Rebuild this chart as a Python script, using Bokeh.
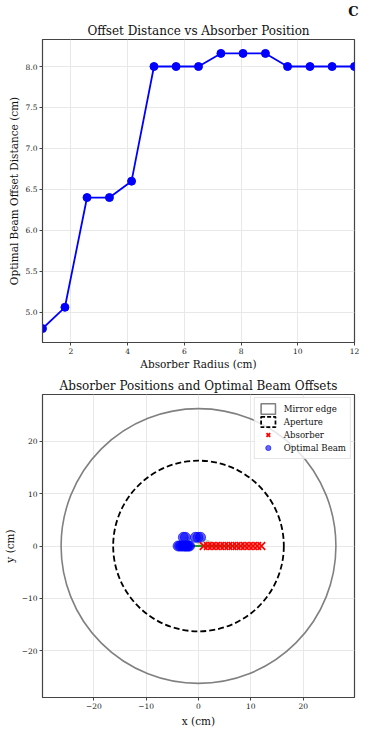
from bokeh.plotting import figure
from bokeh.layouts import column
from bokeh.models import Range1d, FixedTicker, Legend, LegendItem, Title
from bokeh.embed import file_html
from bokeh.resources import INLINE

# ---- data: top panel ----
absorber_radius = [1.0, 1.79, 2.57, 3.36, 4.14, 4.93, 5.71, 6.5, 7.29, 8.07, 8.86, 9.64, 10.43, 11.21, 12.0]
offset_distance = [4.80, 5.06, 6.40, 6.40, 6.60, 8.00, 8.00, 8.00, 8.16, 8.16, 8.16, 8.00, 8.00, 8.00, 8.00]
top_x_ticks = [2, 4, 6, 8, 10, 12]
top_x_labels = ["2", "4", "6", "8", "10", "12"]
top_y_ticks = [5.0, 5.5, 6.0, 6.5, 7.0, 7.5, 8.0]
top_y_labels = ["5.0", "5.5", "6.0", "6.5", "7.0", "7.5", "8.0"]

# ---- data: bottom panel ----
mirror_radius = 26.25
aperture_radius = 16.3
absorber_x = [1.0, 1.79, 2.57, 3.36, 4.14, 4.93, 5.71, 6.5, 7.29, 8.07, 8.86, 9.64, 10.43, 11.21, 12.0]
absorber_y = [0, 0, 0, 0, 0, 0, 0, 0, 0, 0, 0, 0, 0, 0, 0]
beam_x = [-2.9, -2.5, -0.6, -0.1, 0.4, -3.9, -3.6, -3.3, -3.0, -2.7, -2.5, -2.3, -2.1, -1.9, -1.7]
beam_y = [1.66, 1.66, 1.66, 1.66, 1.66, 0, 0, 0, 0, 0, 0, 0, 0, 0, 0]
bottom_ticks = [-20, -10, 0, 10, 20]
bottom_tick_labels = ["\u221220", "\u221210", "0", "10", "20"]

FONT = "DejaVu Serif"
EDGE = "#444444"


def style(p):
    p.outline_line_color = EDGE
    p.outline_line_width = 1.2
    for ax in (p.xaxis[0], p.yaxis[0]):
        ax.axis_line_color = EDGE
        ax.major_tick_line_color = EDGE
        ax.major_tick_out = 3
        ax.major_tick_in = 0
        ax.minor_tick_line_color = None
        ax.major_label_text_font = FONT
        ax.major_label_text_font_size = "7.5px"
        ax.major_label_text_color = "#222222"
        ax.major_label_standoff = 2
        ax.axis_label_text_font = FONT
        ax.axis_label_text_font_size = "10.5px"
        ax.axis_label_text_font_style = "normal"
        ax.axis_label_text_color = "#111111"
        ax.axis_label_standoff = 3
    p.grid.grid_line_color = "#e8e8e8"
    p.grid.grid_line_width = 1


def style_title(t, standoff=3):
    t.text_font = FONT
    t.text_font_size = "12px"
    t.text_font_style = "normal"
    t.text_color = "#111111"
    t.align = "center"
    t.standoff = standoff


# ---------------- top figure ----------------
p1 = figure(frame_width=312, frame_height=303, output_backend="svg", toolbar_location=None,
            x_range=Range1d(1, 12), y_range=Range1d(4.63, 8.33),
            title="C",
            min_border_left=33, min_border_right=9, min_border_top=31, min_border_bottom=26)
style(p1)
# panel letter (outermost row)
p1.title.align = "right"
p1.title.offset = -4
p1.title.standoff = 2
p1.title.text_font = FONT
p1.title.text_font_size = "13px"
p1.title.text_font_style = "bold"
p1.title.text_color = "#111111"
# main title (row next to the frame)
t1 = Title(text="Offset Distance vs Absorber Position")
style_title(t1, standoff=4)
p1.add_layout(t1, "above")
p1.xaxis.axis_label = "Absorber Radius (cm)"
p1.yaxis.axis_label = "Optimal Beam Offset Distance (cm)"
p1.xaxis.axis_label_standoff = 1
p1.xaxis.ticker = FixedTicker(ticks=top_x_ticks)
p1.yaxis.ticker = FixedTicker(ticks=top_y_ticks)
p1.xaxis.major_label_overrides = dict(zip(top_x_ticks, top_x_labels))
p1.yaxis.major_label_overrides = dict(zip(top_y_ticks, top_y_labels))
p1.line(absorber_radius, offset_distance, line_color="#0000ff", line_width=1.8)
p1.scatter(absorber_radius, offset_distance, size=8, fill_color="#0000ff", line_color="#0000ff")

# ---------------- bottom figure ----------------
p2 = figure(frame_width=312, frame_height=303, output_backend="svg", toolbar_location=None,
            x_range=Range1d(-29.8, 29.8), y_range=Range1d(-28.9, 28.9),
            title="Absorber Positions and Optimal Beam Offsets",
            min_border_left=33, min_border_right=9, min_border_top=22, min_border_bottom=36)
style(p2)
style_title(p2.title)
p2.xaxis.axis_label = "x (cm)"
p2.yaxis.axis_label = "y (cm)"
p2.xaxis.ticker = FixedTicker(ticks=bottom_ticks)
p2.yaxis.ticker = FixedTicker(ticks=bottom_ticks)
p2.xaxis.major_label_overrides = dict(zip(bottom_ticks, bottom_tick_labels))
p2.yaxis.major_label_overrides = dict(zip(bottom_ticks, bottom_tick_labels))

p2.circle(x=[0], y=[0], radius=mirror_radius, fill_color=None, line_color="#808080", line_width=1.6)
p2.circle(x=[0], y=[0], radius=aperture_radius, fill_color=None, line_color="black",
          line_width=1.8, line_dash="6 3")
p2.segment(x0=beam_x, y0=beam_y, x1=absorber_x, y1=absorber_y, line_color="green",
           line_alpha=0.4, line_width=0.8)
r_beam = p2.scatter(beam_x, beam_y, size=10, marker="circle", fill_color="#0000ff",
                    fill_alpha=0.6, line_color="#0000ff", line_alpha=0.6)
r_abs = p2.scatter(absorber_x, absorber_y, size=11, marker="x", line_color="red", line_width=1.8)

# off-screen proxies used only for the legend swatches
d_mirror = p2.quad(left=[100], right=[101], top=[101], bottom=[100], fill_color=None,
                   line_color="#808080", line_width=1.6)
d_aper = p2.quad(left=[100], right=[101], top=[101], bottom=[100], fill_color=None,
                 line_color="black", line_width=1.8, line_dash="4 2")

legend = Legend(items=[
    LegendItem(label="Mirror edge", renderers=[d_mirror]),
    LegendItem(label="Aperture", renderers=[d_aper]),
    LegendItem(label="Absorber", renderers=[r_abs]),
    LegendItem(label="Optimal Beam", renderers=[r_beam]),
], location="top_right")
legend.label_text_font = FONT
legend.label_text_font_size = "8.6px"
legend.label_text_color = "#111111"
legend.glyph_width = 18
legend.glyph_height = 13
legend.label_height = 12
legend.spacing = 0
legend.padding = 4
legend.margin = 3
legend.label_standoff = 7
legend.border_line_color = "#cccccc"
legend.background_fill_alpha = 0.8
p2.add_layout(legend)

layout = column(p1, p2)
open("out.html", "w").write(file_html(layout, INLINE))
